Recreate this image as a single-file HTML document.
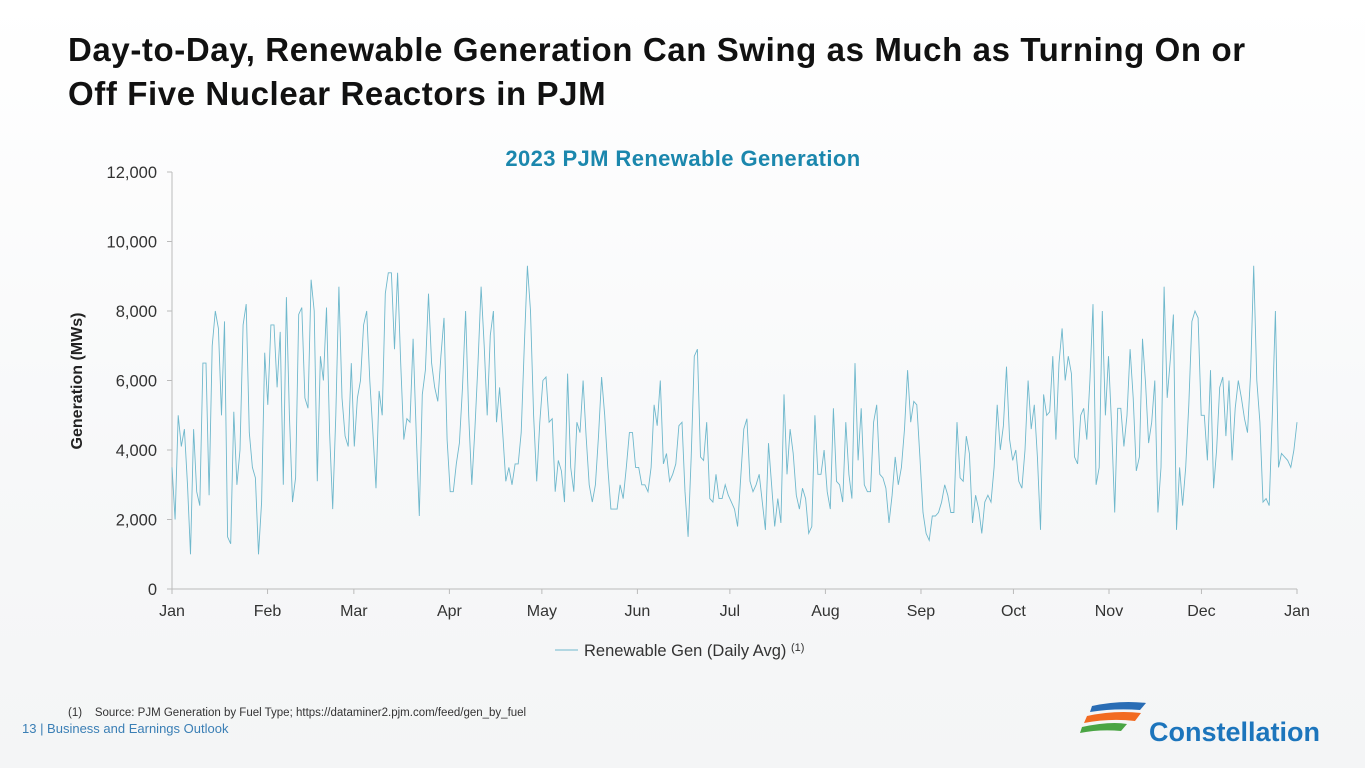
<!DOCTYPE html>
<html><head><meta charset="utf-8">
<style>
body{margin:0;width:1365px;height:768px;overflow:hidden;background:linear-gradient(180deg,#fff 0%,#f7f8f9 60%,#f4f5f6 100%);font-family:"Liberation Sans",sans-serif;position:relative}
.t{position:absolute;left:68px;top:28px;font-size:33px;font-weight:bold;color:#111;line-height:44px;letter-spacing:0.6px}
</style></head><body>
<div class="t">Day-to-Day, Renewable Generation Can Swing as Much as Turning On or<br>Off Five Nuclear Reactors in PJM</div>
<svg id="c" width="1365" height="768" style="position:absolute;left:0;top:0">
<text x="683" y="166" text-anchor="middle" font-size="22" font-weight="bold" fill="#1b87ad" letter-spacing="0.4">2023 PJM Renewable Generation</text>
<text transform="translate(82,381) rotate(-90)" text-anchor="middle" font-size="16" font-weight="bold" fill="#222">Generation (MWs)</text>
<g id="axes"></g>
<polyline id="line" fill="none" stroke="#6fb8cc" stroke-width="0.9"/>
<line x1="555" y1="650" x2="578" y2="650" stroke="#6fb8cc" stroke-width="1"/>
<text x="584" y="656" font-size="16.5" fill="#333">Renewable Gen (Daily Avg) <tspan font-size="11" dy="-5">(1)</tspan></text>
<text x="68" y="716" font-size="11.5" fill="#333" xml:space="preserve">(1)    Source: PJM Generation by Fuel Type; https://dataminer2.pjm.com/feed/gen_by_fuel</text>
<text x="22" y="733" font-size="13" fill="#3a7fb5">13  | Business and Earnings Outlook</text>
<g>
<path d="M1092 706 Q1120 700 1146 703 L1140 710 Q1115 708 1090 712Z" fill="#2a6db5"/>
<path d="M1087 716 Q1115 710 1141 713 L1135 721 Q1110 718 1084 723Z" fill="#f26b21"/>
<path d="M1082 727 Q1110 721 1127 724 L1121 731 Q1100 729 1080 733Z" fill="#4aa544"/>
<text x="1149" y="741" font-size="27" font-weight="bold" fill="#1c75bc">Constellation</text>
</g>
</svg>
<script>
const yTicks=[0,2000,4000,6000,8000,10000,12000];
const xLabels=["Jan","Feb","Mar","Apr","May","Jun","Jul","Aug","Sep","Oct","Nov","Dec","Jan"];
const monthStarts=[0,31,59,90,120,151,181,212,243,273,304,334,365];
const jan=[3500,2000,5000,4100,4600,3000,1000,4600,2800,2400,6500,6500,2700,7000,8000,7500,5000,7700,1500,1300,5100,3000,4000,7600,8200,4500,3500,3200,1000,2500,6800];
const feb=[5300,7600,7600,5800,7400,3000,8400,5000,2500,3200,7900,8100,5500,5200,8900,8000,3100,6700,6000,8100,4500,2300,5000,8700,5500,4400,4100,6500];
const mar=[4100,5500,6000,7600,8000,6000,4500,2900,5700,5000,8500,9100,9100,6900,9100,6500,4300,4900,4800,7200,4500,2100,5600,6300,8500,6500,5800,5400,6700,7800,4300];
const apr=[2800,2800,3600,4200,5800,8000,5000,3000,4600,6500,8700,7000,5000,7300,8000,4800,5800,4500,3100,3500,3000,3600,3600,4500,7000,9300,8000,5000,3100,4800];
const may=[6000,6100,4800,4900,2800,3700,3400,2500,6200,3500,2800,4800,4500,6000,4400,3000,2500,3000,4400,6100,5000,3500,2300,2300,2300,3000,2600,3500,4500,4500,3500];
const jun=[3500,3000,3000,2800,3500,5300,4700,6000,3600,3900,3100,3300,3600,4700,4800,2800,1500,3800,6700,6900,3800,3700,4800,2600,2500,3300,2600,2600,3000,2700];
const jul=[2500,2300,1800,3200,4600,4900,3100,2800,3000,3300,2500,1700,4200,3000,1800,2600,1900,5600,3300,4600,3900,2700,2300,2900,2600,1600,1800,5000,3300,3300,4000];
const aug=[2800,2300,5200,3100,3000,2500,4800,3300,2600,6500,3700,5200,3000,2800,2800,4800,5300,3300,3200,2900,1900,2700,3800,3000,3500,4600,6300,4800,5400,5300,3800];
const sep=[2200,1600,1400,2100,2100,2200,2500,3000,2700,2200,2200,4800,3200,3100,4400,3900,1900,2700,2300,1600,2500,2700,2500,3500,5300,4000,4700,6400,4300,3700];
const oct=[4000,3100,2900,4000,6000,4600,5300,3800,1700,5600,5000,5100,6700,4300,6500,7500,6000,6700,6200,3800,3600,5000,5200,4300,6000,8200,3000,3500,8000,5000,6700];
const nov=[4700,2200,5200,5200,4100,5000,6900,5500,3400,3800,7200,5900,4200,4800,6000,2200,3500,8700,5500,6600,7900,1700,3500,2400,3500,5300,7700,8000,7800,5000];
const dec=[5000,3700,6300,2900,4000,5800,6100,4400,6000,3700,5200,6000,5500,4900,4500,6200,9300,6000,4800,2500,2600,2400,5000,8000,3500,3900,3800,3700,3500,4000,4800];
const values=[].concat(jan,feb,mar,apr,may,jun,jul,aug,sep,oct,nov,dec);
const X0=172,X1=1297,Y0=589,Y1=172;
const xs=d=>X0+(X1-X0)*d/365;
const ys=v=>Y0-(Y0-Y1)*v/12000;
const ns="http://www.w3.org/2000/svg";
const ax=document.getElementById('axes');
function mk(t,a){const e=document.createElementNS(ns,t);for(const k in a)e.setAttribute(k,a[k]);ax.appendChild(e);return e;}
let e=mk('line',{x1:X0,y1:Y1,x2:X0,y2:Y0,stroke:'#bbb'});


e=mk('line',{x1:X0,y1:Y0,x2:X1,y2:Y0,stroke:'#bbb'});


yTicks.forEach(v=>{
  const t=mk('line',{x1:X0-5,x2:X0,y1:ys(v),y2:ys(v),stroke:'#bbb'});
  
  
  const l=mk('text',{x:157,y:ys(v)+6,'text-anchor':'end','font-size':16.5,fill:'#333'});
  l.textContent=v.toLocaleString('en-US');
  
  
});
xLabels.forEach((m,i)=>{
  const x=xs(monthStarts[i]);
  const t=mk('line',{x1:x,x2:x,y1:Y0,y2:Y0+5,stroke:'#bbb'});
  
  
  const l=mk('text',{x:x,y:616,'text-anchor':'middle','font-size':16,fill:'#333'});
  l.textContent=m;
  
  
});
const n=values.length;
document.getElementById('line').setAttribute('points',values.map((v,i)=>xs(i*365/(n-1)).toFixed(1)+','+ys(v).toFixed(1)).join(' '));
</script>
</body></html>
